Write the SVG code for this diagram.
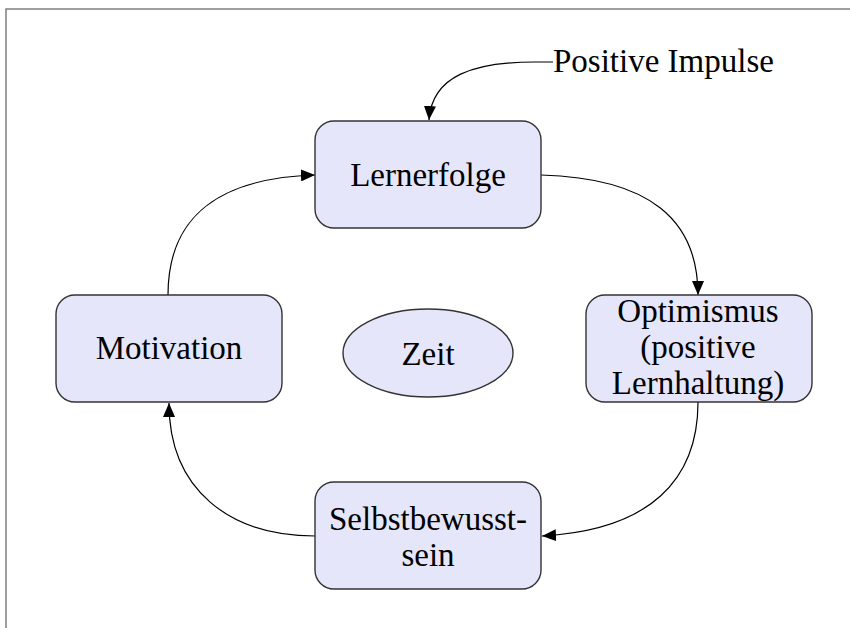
<svg xmlns="http://www.w3.org/2000/svg" width="850" height="628" viewBox="0 0 850 628">
  <style>
    .box { fill: #e6e6fa; stroke: #333333; stroke-width: 1.4; }
    .lbl { font-family: "Liberation Serif", "Times New Roman", serif; font-size: 33px; fill: #000000; text-anchor: middle; }
    .start { text-anchor: start; }
    .edge { fill: none; stroke: #000000; stroke-width: 1.2; marker-end: url(#arrow); }
    .frame { fill: none; stroke: #808080; stroke-width: 1.5; }
  </style>
  <defs>
    <marker id="arrow" markerUnits="userSpaceOnUse" markerWidth="15" markerHeight="12" viewBox="0 0 15 12" refX="14" refY="6" orient="auto">
      <path d="M0,0 L14,6 L0,12 Z" fill="#000000"/>
    </marker>
  </defs>

  <rect x="0" y="0" width="850" height="628" fill="#ffffff"/>
  <!-- page frame -->
  <path class="frame" d="M6,628 L6,9 L850,9"/>

  <g id="connectors">
    <path class="edge" d="M553,62 L535,62 C475,62 432,75 429,120"/>
    <path class="edge" d="M541,175 C650,178 698,220 698,295"/>
    <path class="edge" d="M698,402 C698,480 650,530 542,536"/>
    <path class="edge" d="M315,536 C230,536 169,490 169,403"/>
    <path class="edge" d="M168,295 C168,215 220,178 315,175"/>
  </g>

  <g id="impulse">
    <text class="lbl start" x="553" y="72">Positive Impulse</text>
  </g>

  <g id="lernerfolge">
    <rect class="box" x="315" y="121" width="226" height="107" rx="19" ry="19"/>
    <text class="lbl" x="428" y="186">Lernerfolge</text>
  </g>

  <g id="optimismus">
    <rect class="box" x="586" y="295" width="226" height="107" rx="19" ry="19"/>
    <text class="lbl" x="698" y="322">Optimismus</text>
    <text class="lbl" x="698" y="358">(positive</text>
    <text class="lbl" x="698" y="394">Lernhaltung)</text>
  </g>

  <g id="selbstbewusstsein">
    <rect class="box" x="315" y="482" width="226" height="107" rx="19" ry="19"/>
    <text class="lbl" x="428" y="530">Selbstbewusst-</text>
    <text class="lbl" x="428" y="566">sein</text>
  </g>

  <g id="motivation">
    <rect class="box" x="56" y="295" width="226" height="107" rx="19" ry="19"/>
    <text class="lbl" x="169" y="359">Motivation</text>
  </g>

  <g id="zeit">
    <ellipse class="box" cx="428" cy="353" rx="85" ry="44"/>
    <text class="lbl" x="428" y="365">Zeit</text>
  </g>
</svg>
